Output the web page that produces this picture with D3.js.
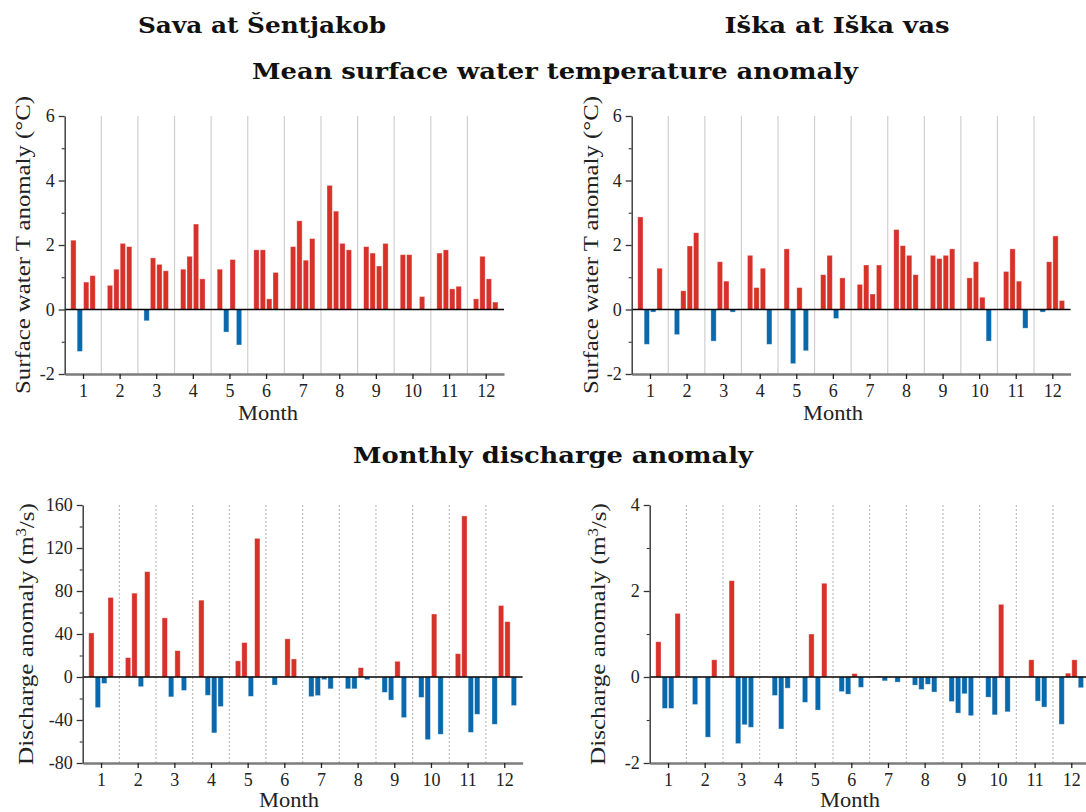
<!DOCTYPE html>
<html>
<head>
<meta charset="utf-8">
<script src="https://cdn.jsdelivr.net/npm/d3@7"></script>
<style>
  body { margin: 0; background: #fff; }
  svg { display: block; font-family: "Liberation Serif", "DejaVu Serif", serif; }
  .title { font-family: "DejaVu Serif", serif; font-weight: bold; font-size: 22px; text-anchor: middle; fill: #111; }
  .lab { font-size: 21px; fill: #222; text-anchor: middle; }
  .tick text { font-size: 18px; fill: #222; font-family: "Liberation Serif", serif; }
</style>
</head>
<body>
<div id="chart"></div>
<script>
//months on the x axis, 4 bars per month
const months = d3.range(1, 13);
const slots = [0, 1, 2, 3];

//Sava at Sentjakob, temperature anomaly (°C), per month 4 values
const savaTemp = [
    [2.15, -1.3, 0.85, 1.05],
    [0.75, 1.25, 2.05, 1.95],
    [-0.35, 1.6, 1.4, 1.2],
    [1.25, 1.65, 2.65, 0.95],
    [1.25, -0.7, 1.55, -1.1],
    [1.85, 1.85, 0.33, 1.15],
    [1.95, 2.75, 1.53, 2.2],
    [3.85, 3.05, 2.05, 1.85],
    [1.95, 1.75, 1.35, 2.05],
    [1.7, 1.7, null, 0.4],
    [1.75, 1.85, 0.64, 0.72],
    [0.33, 1.65, 0.95, 0.23],
];

//Iska at Iska vas, temperature anomaly (°C)
const iskaTemp = [
    [2.87, -1.08, -0.08, 1.28],
    [-0.78, 0.58, 1.97, 2.38],
    [-0.98, 1.48, 0.88, -0.08],
    [1.68, 0.68, 1.28, -1.08],
    [1.88, -1.68, 0.68, -1.28],
    [1.08, 1.68, -0.28, 0.98],
    [0.78, 1.38, 0.48, 1.38],
    [2.48, 1.98, 1.68, 1.08],
    [1.68, 1.58, 1.68, 1.88],
    [0.98, 1.48, 0.38, -0.98],
    [1.18, 1.88, 0.88, -0.58],
    [-0.08, 1.48, 2.28, 0.28],
];

//Sava, discharge anomaly (m3/s)
const savaQ = [
    [41, -28.5, -6, 74],
    [18, 78, -9, 98],
    [55, -18.5, 24.5, -12.5],
    [71.5, -17, -52, -27.5],
    [15, 32, -18, 129],
    [-7.5, 0.6, 35.5, 16.8],
    [-18.3, -17.3, -2.5, -11],
    [-11, -11, 8.7, -2.5],
    [-14.3, -21.5, 14.6, -37.8],
    [-19, -58.3, 58.6, -53.3],
    [21.7, 149.8, -51.5, -34.7],
    [-44, 66.5, 51.5, -26.6],
];

//Iska, discharge anomaly (m3/s)
const iskaQ = [
    [0.82, -0.73, -0.73, 1.48],
    [-0.64, null, -1.4, 0.4],
    [2.24, -1.55, -1.11, -1.17],
    [null, -0.43, -1.21, -0.26],
    [-0.59, 1.0, -0.77, 2.18],
    [-0.34, -0.4, 0.08, -0.24],
    [0.02, -0.09, null, -0.12],
    [-0.19, -0.29, -0.17, -0.35],
    [-0.57, -0.84, -0.39, -0.9],
    [-0.47, -0.88, 1.69, -0.81],
    [null, 0.4, -0.56, -0.7],
    [-1.1, 0.09, 0.4, -0.25],
];

const tempTicks = [-2, 0, 2, 4, 6];
const tempMinor = [-1, 1, 3, 5];
const savaQTicks = [-80, -40, 0, 40, 80, 120, 160];
const savaQMinor = [-60, -20, 20, 60, 100, 140];
const iskaQTicks = [-2, 0, 2, 4];
const iskaQMinor = [-1, 1, 3];

const colPos = "#d7312a";
const colNeg = "#0a69ad";

const width = 1086;
const height = 812;

const svg = d3
    .select("#chart")
    .append("svg")
    .attr("width", width)
    .attr("height", height);

//titles (text, centre x, baseline y, width in the picture)
const titles = [
    ["Sava at Šentjakob", 262, 33, 248],
    ["Iška at Iška vas", 837, 33, 225],
    ["Mean surface water temperature anomaly", 555, 79, 606],
    ["Monthly discharge anomaly", 553, 463, 400],
];
svg.selectAll("text.title")
    .data(titles)
    .join("text")
    .attr("class", "title")
    .attr("x", (d) => d[1])
    .attr("y", (d) => d[2])
    .attr("textLength", (d) => d[3])
    .attr("lengthAdjust", "spacingAndGlyphs")
    .text((d) => d[0]);

const panels = [
    {
        data: savaTemp, x0: 64.7, x1: 504, y0: 116, y1: 374,
        domain: [-2, 6], ticks: tempTicks, minor: tempMinor,
        yLabelX: 23, monthX: 268, monthY: 420, dotted: false, unit: "temp",
    },
    {
        data: iskaTemp, x0: 631.7, x1: 1070.6, y0: 116, y1: 374,
        domain: [-2, 6], ticks: tempTicks, minor: tempMinor,
        yLabelX: 591, monthX: 833, monthY: 420, dotted: false, unit: "temp",
    },
    {
        data: savaQ, x0: 82.7, x1: 522.6, y0: 505, y1: 763,
        domain: [-80, 160], ticks: savaQTicks, minor: savaQMinor,
        yLabelX: 26, monthX: 289, monthY: 807, dotted: true, unit: "q",
    },
    {
        data: iskaQ, x0: 649.7, x1: 1089.6, y0: 505, y1: 763,
        domain: [-2, 4], ticks: iskaQTicks, minor: iskaQMinor,
        yLabelX: 598, monthX: 850, monthY: 807, dotted: true, unit: "q",
    },
];

panels.forEach(drawPanel);

function drawPanel(p) {
    const g = svg.append("g");

    const x = d3.scaleLinear().domain([0.5, 12.5]).range([p.x0, p.x1]);
    const y = d3.scaleLinear().domain(p.domain).range([p.y1, p.y0]);
    const mw = x(2) - x(1);
    //slot positions inside one month
    const xs = d3.scaleBand().domain(slots).range([-0.335 * mw, 0.335 * mw]).paddingInner(0.17);

    //month separators
    g.append("g")
        .selectAll("line")
        .data(months.slice(0, 11))
        .join("line")
        .attr("x1", (d) => x(d + 0.5))
        .attr("x2", (d) => x(d + 0.5))
        .attr("y1", p.y0)
        .attr("y2", p.y1)
        .attr("stroke", p.dotted ? "#a8a8a8" : "#cfcfcf")
        .attr("stroke-width", p.dotted ? 0.9 : 1.2)
        .attr("stroke-dasharray", p.dotted ? "2,2" : null);

    //bars
    const flat = [];
    p.data.forEach((vals, i) => {
        vals.forEach((v, j) => {
            if (v !== null) flat.push({ month: months[i], slot: j, value: v });
        });
    });

    g.append("g")
        .selectAll("rect")
        .data(flat)
        .join("rect")
        .attr("x", (d) => x(d.month) + xs(d.slot))
        .attr("width", xs.bandwidth())
        .attr("y", (d) => y(Math.max(0, d.value)))
        .attr("height", (d) => Math.abs(y(d.value) - y(0)))
        .attr("fill", (d) => (d.value >= 0 ? colPos : colNeg))
        .attr("stroke", "#fff")
        .attr("stroke-opacity", 0.45)
        .attr("stroke-width", 0.8);

    //zero line
    g.append("line")
        .attr("x1", p.x0)
        .attr("x2", p.x1)
        .attr("y1", y(0))
        .attr("y2", y(0))
        .attr("stroke", "#000")
        .attr("stroke-width", 1.6);

    //x axis
    const xAxis = g
        .append("g")
        .attr("transform", `translate(0,${p.y1})`)
        .call(d3.axisBottom(x).tickValues(months).tickSize(5).tickSizeOuter(0).tickPadding(5));
    xAxis.select(".domain").attr("stroke", "#7c7c7c").attr("stroke-width", 2.6);
    xAxis.selectAll(".tick line").attr("stroke", "#222").attr("stroke-width", 1.3);

    //y axis, minor then major
    g.append("g")
        .attr("transform", `translate(${p.x0},0)`)
        .call(d3.axisLeft(y).tickValues(p.minor).tickSize(3).tickFormat(""))
        .call((a) => a.select(".domain").remove())
        .selectAll(".tick line")
        .attr("stroke", "#333")
        .attr("stroke-width", 1.1);

    const yAxis = g
        .append("g")
        .attr("transform", `translate(${p.x0},0)`)
        .call(d3.axisLeft(y).tickValues(p.ticks).tickSize(6).tickSizeOuter(0).tickPadding(4).tickFormat((d) => String(d)));
    yAxis.select(".domain").attr("stroke", "#333").attr("stroke-width", 1.4);
    yAxis.selectAll(".tick line").attr("stroke", "#333").attr("stroke-width", 1.3);

    //axis labels
    g.append("text")
        .attr("class", "lab")
        .attr("x", p.monthX)
        .attr("y", p.monthY)
        .attr("textLength", 60)
        .attr("lengthAdjust", "spacingAndGlyphs")
        .text("Month");

    const yl = g
        .append("text")
        .attr("class", "lab")
        .attr("transform", `translate(${p.yLabelX},${(p.y0 + p.y1) / 2}) rotate(-90)`)
        .attr("dy", "0.35em")
        .attr("lengthAdjust", "spacingAndGlyphs");

    if (p.unit === "temp") {
        yl.attr("textLength", 298).text("Surface water T anomaly (°C)");
    } else {
        yl.attr("textLength", 262);
        yl.append("tspan").text("Discharge anomaly (m");
        yl.append("tspan").attr("font-size", "14px").attr("dy", "-0.5em").text("3");
        yl.append("tspan").attr("dy", "0.35em").text("/s)");
    }
}
</script>
</body>
</html>
